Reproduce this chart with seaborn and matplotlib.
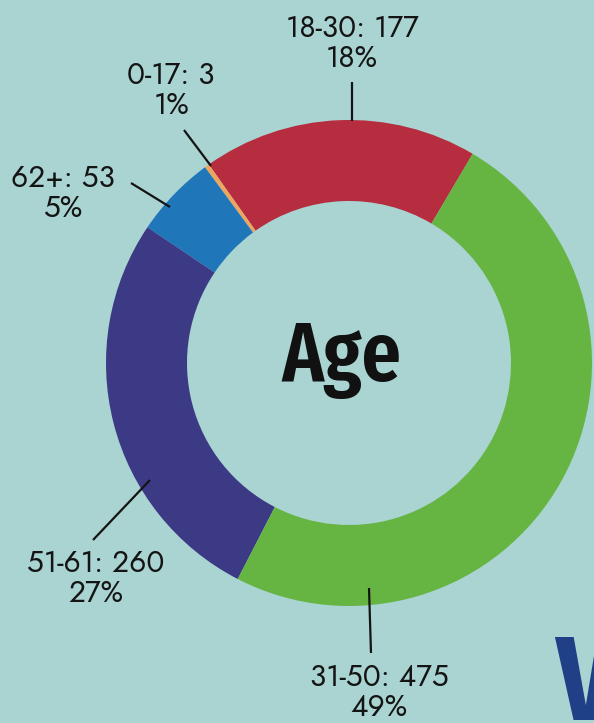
import matplotlib
matplotlib.use("Agg")
import matplotlib.pyplot as plt
import seaborn as sns

# Age breakdown (counts and the printed percentage for each group)
groups = ["18-30", "0-17", "62+", "51-61", "31-50"]
counts = [177, 3, 53, 260, 475]
pct_labels = ["18%", "1%", "5%", "27%", "49%"]
colors = ["#b52d3e", "#eea560", "#1f77b9", "#3d3a85", "#66b543"]

BG = "#a9d4d2"
W, H = 594, 723

sns.set_theme(style="white")
plt.rcParams["font.family"] = ["Jost", "DejaVu Sans"]

fig = plt.figure(figsize=(W / 100, H / 100), dpi=100, facecolor=BG)
ax = fig.add_axes([0, 0, 1, 1])
ax.set_facecolor(BG)


def px(x, y):
    """Pixel position (origin top-left) to axes data units."""
    return x, H - y


cx, cy = px(349, 363)
ax.pie(counts, colors=colors, startangle=59.4, counterclock=True,
       center=(cx, cy), radius=243,
       wedgeprops=dict(width=81, linewidth=0))
ax.set_xlim(0, W)
ax.set_ylim(0, H)
ax.set_aspect("equal")
ax.axis("off")

# label placement: (label centre, leader start, leader end) in pixels
layout = {
    "18-30": ((352, 44), (352, 82), (352, 121)),
    "0-17": ((171, 91), (184, 130), (211, 166)),
    "62+": ((63, 194), (131, 183), (170, 207)),
    "51-61": ((96, 579), (93, 540), (150, 480)),
    "31-50": ((379, 693), (371, 653), (369, 588)),
}

for g, n, p in zip(groups, counts, pct_labels):
    (lx, ly), a, b = layout[g]
    x, y = px(lx, ly)
    ax.text(x, y, f"{g}: {n}\n{p}", ha="center", va="center",
            fontsize=21.5, fontweight=600, color="#141414", linespacing=1.0)
    (x0, y0), (x1, y1) = px(*a), px(*b)
    ax.plot([x0, x1], [y0, y1], color="#141414", lw=1.6,
            solid_capstyle="butt")

narrow = ["Fira Sans Extra Condensed", "DejaVu Sans"]
ax.text(*px(341, 381), "Age", ha="center", va="baseline", fontsize=61,
        fontweight=600, family=narrow, color="#111111")

# heading of the next panel, cut by the right edge
ax.text(*px(555, 720), "V", ha="left", va="baseline", fontsize=86,
        fontweight="bold", family=narrow, color="#1f3f86", clip_on=False)

fig.savefig("out.png", dpi=100, facecolor=BG)
